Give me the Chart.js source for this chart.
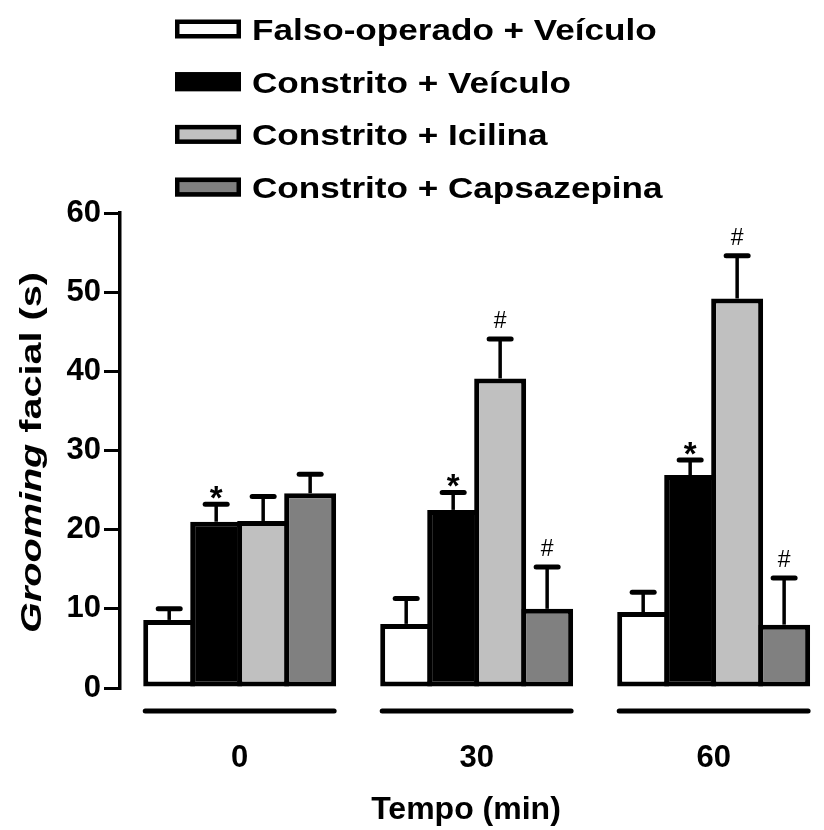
<!DOCTYPE html>
<html>
<head>
<meta charset="utf-8">
<script src="https://cdn.jsdelivr.net/npm/chart.js@4/dist/chart.umd.min.js"></script>
<style>
  html, body { margin: 0; padding: 0; background: #fff; }
  #wrap { width: 824px; height: 830px; position: relative; }
</style>
</head>
<body>
<div id="wrap"><canvas id="chart" width="824" height="830"></canvas></div>
<script>
// Time points (min) and their positions on the x scale
const timeLabels = ['0', '30', '60'];
const timePositions = [0, 1, 2];

// Group names
const groupNames = [
  'Falso-operado + Veículo',
  'Constrito + Veículo',
  'Constrito + Icilina',
  'Constrito + Capsazepina'
];

// Facial grooming time (s), mean and SEM
const shamVehicle = [8.6, 8.1, 9.6];
const shamVehicleErr = [1.4, 3.2, 2.5];
const cciVehicle = [21.0, 22.5, 26.9];
const cciVehicleErr = [2.2, 2.2, 1.9];
const cciIcilin = [21.1, 39.1, 49.2];
const cciIcilinErr = [3.1, 5.0, 5.4];
const cciCapsazepine = [24.6, 10.0, 8.0];
const cciCapsazepineErr = [2.4, 5.3, 5.9];

// Significance marks above the error bars
const shamVehicleMarks = ['', '', ''];
const cciVehicleMarks = ['*', '*', '*'];
const cciIcilinMarks = ['', '#', '#'];
const cciCapsazepineMarks = ['', '#', '#'];

// Y axis ticks
const yTicks = [0, 10, 20, 30, 40, 50, 60];

const fillColors = ['#ffffff', '#000000', '#c0c0c0', '#808080'];
const FONT = "'Liberation Sans', Arial, Helvetica, sans-serif";

const seriesValues = [shamVehicle, cciVehicle, cciIcilin, cciCapsazepine];
const seriesErrors = [shamVehicleErr, cciVehicleErr, cciIcilinErr, cciCapsazepineErr];
const seriesMarks = [shamVehicleMarks, cciVehicleMarks, cciIcilinMarks, cciCapsazepineMarks];

// Bars are a touch wider than their slots so neighbouring outlines merge into one line
const datasets = groupNames.map((name, k) => ({
  label: name,
  data: seriesValues[k].map((v, i) => ({ x: timePositions[i], y: v })),
  errors: seriesErrors[k],
  marks: seriesMarks[k],
  backgroundColor: fillColors[k],
  borderColor: '#000000',
  borderWidth: 5,
  borderSkipped: false,
  categoryPercentage: 0.793,
  barPercentage: 1.106
}));

// Upward SEM whiskers with caps, plus the significance symbols
const errorBars = {
  id: 'errorBars',
  afterDatasetsDraw(chart) {
    const ctx = chart.ctx;
    const ys = chart.scales.y;
    chart.data.datasets.forEach((ds, di) => {
      const meta = chart.getDatasetMeta(di);
      meta.data.forEach((bar, i) => {
        const v = ds.data[i].y;
        const top = ys.getPixelForValue(v + ds.errors[i]);
        ctx.save();
        ctx.strokeStyle = '#000';
        ctx.lineWidth = 3.5;
        ctx.beginPath();
        ctx.moveTo(bar.x, bar.y);
        ctx.lineTo(bar.x, top);
        ctx.stroke();
        ctx.lineWidth = 5;
        ctx.lineCap = 'round';
        ctx.beginPath();
        ctx.moveTo(bar.x - 11, top);
        ctx.lineTo(bar.x + 11, top);
        ctx.stroke();
        const m = ds.marks[i];
        if (m) {
          ctx.fillStyle = '#000';
          ctx.textAlign = 'center';
          ctx.textBaseline = 'alphabetic';
          if (m === '*') {
            ctx.font = 'bold 33px ' + FONT;
            ctx.fillText(m, bar.x, top + 5);
          } else {
            ctx.font = '23px ' + FONT;
            ctx.fillText(m, bar.x, top - 11);
          }
        }
        ctx.restore();
      });
    });
  }
};

// Thick bracket line under each time group
const groupLines = {
  id: 'groupLines',
  afterDraw(chart) {
    const ctx = chart.ctx;
    const y = chart.chartArea.bottom + 23;
    timePositions.forEach((p, i) => {
      let left = Infinity, right = -Infinity;
      chart.data.datasets.forEach((ds, di) => {
        const bar = chart.getDatasetMeta(di).data[i];
        left = Math.min(left, bar.x - bar.width / 2);
        right = Math.max(right, bar.x + bar.width / 2);
      });
      ctx.save();
      ctx.strokeStyle = '#000';
      ctx.lineWidth = 5;
      ctx.lineCap = 'round';
      ctx.beginPath();
      ctx.moveTo(left + 2, y);
      ctx.lineTo(right - 2, y);
      ctx.stroke();
      ctx.restore();
    });
  }
};

// Vertical title with the italic word
const yTitle = {
  id: 'yTitle',
  afterDraw(chart) {
    const ctx = chart.ctx;
    const area = chart.chartArea;
    const cy = (area.top + area.bottom) / 2 + 2;
    const stretch = 1.32;
    const italicPart = 'Grooming';
    const plainPart = ' facial (s)';
    ctx.save();
    ctx.translate(41, cy);
    ctx.rotate(-Math.PI / 2);
    ctx.scale(stretch, 1);
    ctx.fillStyle = '#000';
    ctx.textBaseline = 'alphabetic';
    ctx.textAlign = 'left';
    ctx.font = 'italic bold 30px ' + FONT;
    const w1 = ctx.measureText(italicPart).width;
    ctx.font = 'bold 30px ' + FONT;
    const w2 = ctx.measureText(plainPart).width;
    const x0 = -(w1 + w2) / 2;
    ctx.font = 'italic bold 30px ' + FONT;
    ctx.fillText(italicPart, x0, 0);
    ctx.font = 'bold 30px ' + FONT;
    ctx.fillText(plainPart, x0 + w1, 0);
    ctx.restore();
  }
};

// Stacked legend above the plot
const stackedLegend = {
  id: 'stackedLegend',
  afterDraw(chart) {
    const ctx = chart.ctx;
    const boxX = 175, boxW = 66, boxH = 19, textX = 252, rowY = 29, rowGap = 52.7;
    chart.data.datasets.forEach((ds, i) => {
      const cy = rowY + i * rowGap;
      ctx.save();
      ctx.fillStyle = ds.backgroundColor;
      ctx.fillRect(boxX, cy - boxH / 2, boxW, boxH);
      ctx.strokeStyle = '#000';
      ctx.lineWidth = 4.5;
      ctx.strokeRect(boxX + 2.25, cy - boxH / 2 + 2.25, boxW - 4.5, boxH - 4.5);
      ctx.fillStyle = '#000';
      ctx.font = 'bold 30px ' + FONT;
      ctx.textBaseline = 'alphabetic';
      ctx.textAlign = 'left';
      ctx.translate(textX, cy + 11);
      ctx.scale(1.17, 1);
      ctx.fillText(ds.label, 0, 0);
      ctx.restore();
    });
  }
};

new Chart(document.getElementById('chart'), {
  type: 'bar',
  data: { datasets },
  options: {
    responsive: false,
    animation: false,
    devicePixelRatio: 1,
    layout: { padding: { top: 213, right: 12, bottom: 0, left: 0 } },
    plugins: {
      legend: { display: false },
      tooltip: { enabled: false }
    },
    scales: {
      x: {
        type: 'linear',
        offset: false,
        min: -0.505,
        max: 2.415,
        grid: { display: false, offset: false },
        border: { display: false },
        afterBuildTicks(scale) {
          scale.ticks = timePositions.map(v => ({ value: v }));
        },
        afterFit(scale) { scale.height = 142; },
        ticks: {
          color: '#000',
          font: { family: FONT, size: 31, weight: 'bold' },
          padding: 44,
          maxRotation: 0,
          callback: (value) => timeLabels[timePositions.indexOf(value)]
        },
        title: {
          display: true,
          text: 'Tempo (min)',
          color: '#000',
          font: { family: FONT, size: 32, weight: 'bold' },
          padding: { top: 10, bottom: 1 }
        }
      },
      y: {
        min: 0,
        max: 60,
        afterBuildTicks(scale) {
          scale.ticks = yTicks.map(v => ({ value: v }));
        },
        afterFit(scale) { scale.width = 120; },
        grid: {
          display: true,
          drawOnChartArea: false,
          drawTicks: true,
          tickLength: 16,
          lineWidth: 3,
          color: '#000'
        },
        border: { display: true, width: 3.5, color: '#000' },
        ticks: {
          color: '#000',
          font: { family: FONT, size: 31, weight: 'bold' },
          padding: 3
        }
      }
    }
  },
  plugins: [errorBars, groupLines, yTitle, stackedLegend]
});
</script>
</body>
</html>
